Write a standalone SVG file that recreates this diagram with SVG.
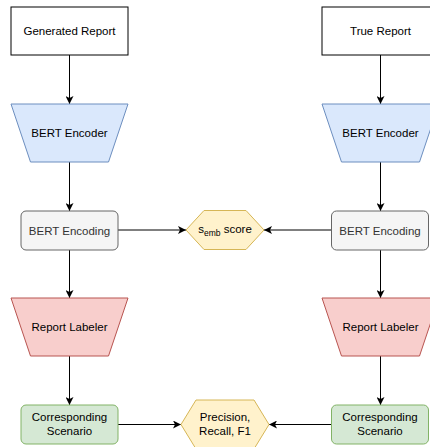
<svg xmlns="http://www.w3.org/2000/svg" width="430" height="447" viewBox="0 0 430 447">
<defs>
<style>
text{font-family:"Liberation Sans",Arial,sans-serif;font-size:11.5px;fill:#000;text-anchor:middle}
.box{fill:#fff;stroke:#000;stroke-width:1}
.enc{fill:#dae8fc;stroke:#6c8ebf;stroke-width:1}
.grey{fill:#f5f5f5;stroke:#666;stroke-width:1}
.grey-t{fill:#333}
.lab{fill:#f8cecc;stroke:#b85450;stroke-width:1}
.scn{fill:#d5e8d4;stroke:#82b366;stroke-width:1}
.hex{fill:#fff2cc;stroke:#d6b656;stroke-width:1}
.edge{fill:none;stroke:#000;stroke-width:1;marker-end:url(#arr)}
</style>
<marker id="arr" viewBox="0 0 8 8" refX="8" refY="4" markerWidth="8" markerHeight="8" markerUnits="userSpaceOnUse" orient="auto">
<path d="M0,0 L8,4 L0,8 L2,4 Z" fill="#000"/>
</marker>
</defs>

<g id="connectors">
<path class="edge" d="M69.5,55 V104"/>
<path class="edge" d="M69.5,162 V211"/>
<path class="edge" d="M69.5,250 V298"/>
<path class="edge" d="M69.5,356 V405"/>
<path class="edge" d="M380.5,55 V104"/>
<path class="edge" d="M380.5,162 V211"/>
<path class="edge" d="M380.5,250 V298"/>
<path class="edge" d="M380.5,356 V405"/>
<path class="edge" d="M118,230 H186"/>
<path class="edge" d="M331,230 H264"/>
<path class="edge" d="M118,424.5 H181"/>
<path class="edge" d="M331,424.5 H269"/>
</g>

<g id="generated-report">
<rect class="box" x="11" y="7" width="117" height="48"/>
<text x="69.5" y="35">Generated Report</text>
</g>
<g id="true-report">
<rect class="box" x="322" y="7" width="117" height="48"/>
<text x="380.5" y="35">True Report</text>
</g>

<g id="bert-encoder-left">
<path class="enc" d="M11,104 H128 L108.5,162 H30.5 Z"/>
<text x="69.5" y="137">BERT Encoder</text>
</g>
<g id="bert-encoder-right">
<path class="enc" d="M322,104 H439 L419.5,162 H341.5 Z"/>
<text x="380.5" y="137">BERT Encoder</text>
</g>

<g id="bert-encoding-left">
<rect class="grey" x="21" y="211" width="97" height="39" rx="5"/>
<text class="grey-t" x="69.5" y="234.5">BERT Encoding</text>
</g>
<g id="bert-encoding-right">
<rect class="grey" x="331.5" y="211" width="97" height="39" rx="5"/>
<text class="grey-t" x="380" y="234.5">BERT Encoding</text>
</g>

<g id="semb-score">
<path class="hex" d="M186,230 L204,210.5 H246 L264,230 L246,249.5 H204 Z"/>
<text x="225" y="233">s<tspan font-size="8.5" dy="3">emb</tspan><tspan dy="-3"> score</tspan></text>
</g>

<g id="report-labeler-left">
<path class="lab" d="M11,298 H128 L108.5,356 H30.5 Z"/>
<text x="69.5" y="331">Report Labeler</text>
</g>
<g id="report-labeler-right">
<path class="lab" d="M322,298 H439 L419.5,356 H341.5 Z"/>
<text x="380.5" y="331">Report Labeler</text>
</g>

<g id="scenario-left">
<rect class="scn" x="21" y="405" width="97" height="39" rx="5"/>
<text x="69.5" y="421">Corresponding</text>
<text x="69.5" y="435">Scenario</text>
</g>
<g id="scenario-right">
<rect class="scn" x="331.5" y="405" width="97" height="39" rx="5"/>
<text x="380" y="421">Corresponding</text>
<text x="380" y="435">Scenario</text>
</g>

<g id="precision-recall-f1">
<path class="hex" d="M181,424.5 L196,400 H254 L269,424.5 L254,449 H196 Z"/>
<text x="225" y="420.5">Precision,</text>
<text x="225" y="434.5">Recall, F1</text>
</g>
</svg>
